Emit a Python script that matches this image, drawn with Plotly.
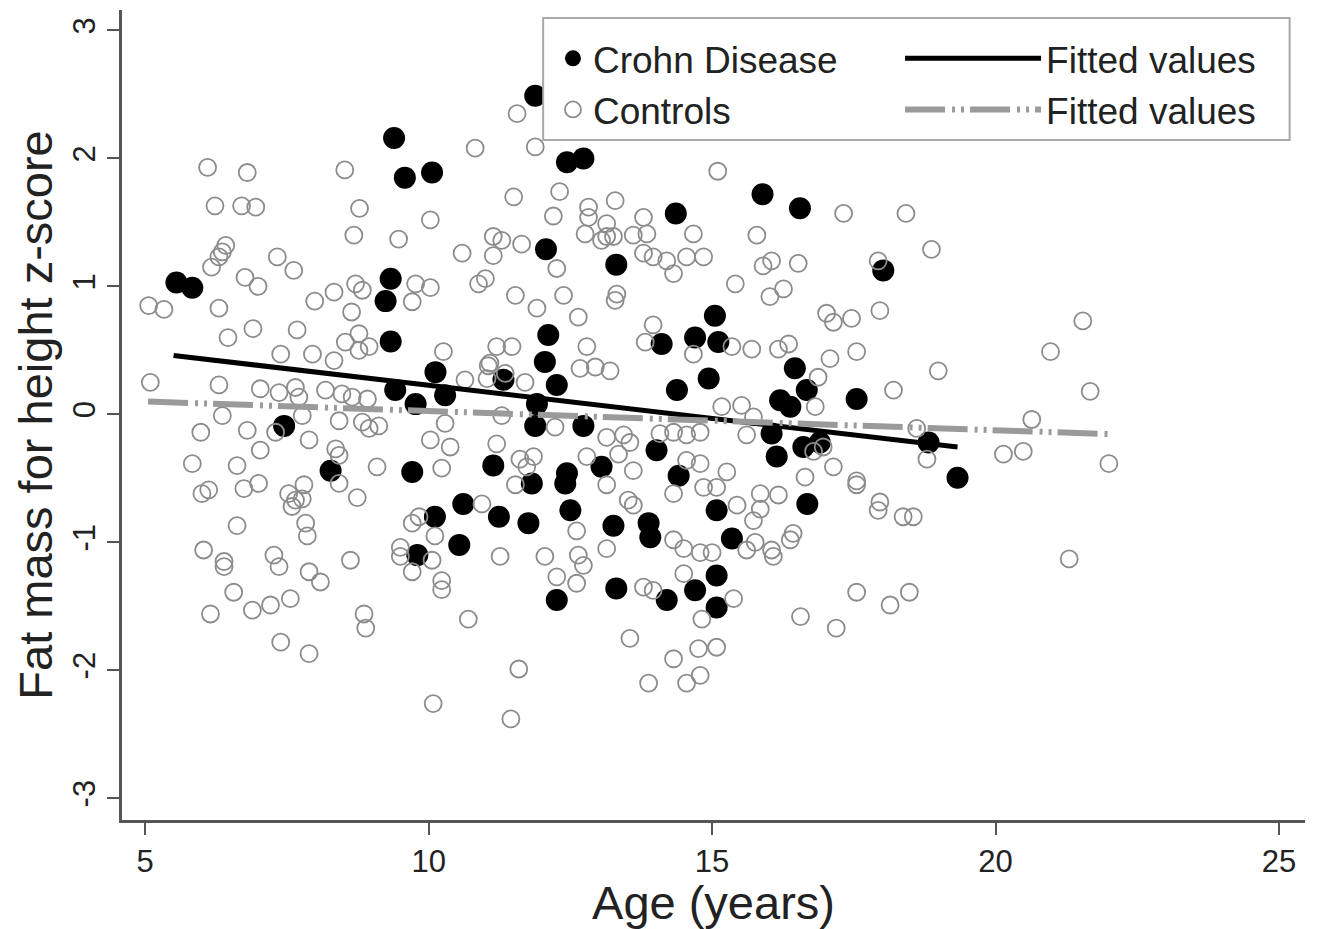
import plotly.graph_objects as go

# ---- data ----
crohn_age = [9.39, 9.58, 5.55, 5.83, 9.33, 9.24, 9.33, 9.41, 9.77, 7.45, 8.27, 9.71, 9.80,
             11.88, 10.06, 12.44, 12.73, 14.36, 12.07, 13.31, 12.11, 12.05, 14.11, 14.70, 15.05, 10.12,
             10.29, 11.32, 12.26, 11.91, 11.88, 12.73, 14.38, 14.94, 14.02, 14.41, 11.14, 11.82, 12.44,
             12.41, 13.05, 10.61, 10.11, 11.24, 11.76, 12.50, 13.26, 13.88, 13.91, 10.54, 12.26, 13.31,
             14.20, 14.70, 15.08, 15.08, 15.08, 15.89, 16.55, 18.02, 15.11, 16.46, 16.20, 16.38, 16.67,
             17.55, 16.05, 16.14, 16.61, 16.90, 18.82, 19.33, 16.68, 15.35]
crohn_z = [2.16, 1.85, 1.03, 0.99, 1.06, 0.885, 0.57, 0.19, 0.08, -0.09, -0.44, -0.45, -1.10,
           2.49, 1.89, 1.97, 2.00, 1.57, 1.29, 1.17, 0.62, 0.41, 0.55, 0.60, 0.77, 0.33,
           0.15, 0.27, 0.23, 0.08, -0.09, -0.09, 0.19, 0.28, -0.28, -0.48, -0.40, -0.54, -0.46,
           -0.54, -0.41, -0.70, -0.80, -0.80, -0.85, -0.75, -0.87, -0.85, -0.96, -1.02, -1.45, -1.36,
           -1.45, -1.375, -1.26, -1.51, -0.75, 1.72, 1.61, 1.125, 0.565, 0.36, 0.11, 0.06, 0.19,
           0.12, -0.15, -0.33, -0.255, -0.22, -0.22, -0.495, -0.70, -0.97]

control_age = [6.10, 6.80, 8.52, 6.23, 6.70, 6.95, 8.78, 8.68, 9.47, 6.42, 6.36, 6.30, 6.17, 7.33, 7.62,
               6.76, 6.99, 5.06, 5.33, 6.30, 7.99, 8.33, 8.71, 8.83, 8.64, 9.77, 9.71, 6.46, 6.90, 7.68,
               8.53, 8.77, 8.77, 8.95, 7.39, 7.95, 8.33,
               5.09, 6.30, 7.03, 7.36, 7.65, 7.71, 8.18, 8.47, 8.65, 8.92, 6.36, 7.77, 8.42, 8.83, 8.95,
               9.12, 5.98, 6.80, 7.30, 7.89, 7.03, 8.36, 8.42, 5.83, 6.62, 9.09, 6.00, 6.12, 6.74, 7.00,
               7.80, 8.42, 8.74, 7.53, 7.65, 7.77, 7.59, 6.62, 7.83, 7.86, 9.71, 9.83, 9.50, 9.50, 9.71,
               6.03, 6.39, 6.39, 7.27, 7.36, 7.89, 8.09, 8.62, 6.56, 6.15, 6.89, 7.21, 7.56, 8.86, 8.89,
               7.39, 7.89,
               11.56, 10.82, 11.88, 15.10, 11.50, 12.31, 13.29, 10.03, 12.20, 12.82, 12.82, 13.14, 13.14,
               12.76, 13.05, 13.26, 13.79, 13.61, 13.85, 14.67, 11.14, 11.29, 11.14, 11.64, 10.59, 12.26,
               13.79, 13.96, 14.20, 14.55, 14.85, 14.32, 10.88, 11.00, 10.03, 11.53, 11.91, 12.38, 13.32,
               13.29, 12.64, 13.96, 13.82, 10.26, 11.20, 11.47, 11.08, 12.79, 14.67,
               11.05, 11.35, 11.70, 10.64, 11.03, 12.67, 12.94, 13.20, 10.29, 11.29, 12.23, 13.14, 13.44,
               13.55, 10.03, 10.38, 11.20, 10.23, 11.61, 11.85, 11.73, 11.53, 12.79, 13.35, 13.61, 13.14,
               13.52, 13.61, 14.08, 14.32, 14.55, 14.79, 14.55, 14.79, 14.32, 14.85, 10.94, 12.61, 13.14,
               10.11, 10.06, 10.23, 10.23, 11.26, 12.05, 12.64, 12.73, 12.26, 12.61, 13.79, 13.96, 14.32,
               14.50, 14.79, 15.00, 14.50, 10.70, 13.55, 14.82, 14.32, 14.76, 11.59, 13.88, 14.55, 14.79,
               10.08, 11.45, 15.08,
               17.32, 18.42, 15.79, 18.87, 15.90, 16.05, 16.52, 17.93, 15.41, 16.02, 16.26, 17.96, 17.02,
               17.14, 17.46, 15.35, 15.70, 16.17, 16.35, 17.08, 17.55, 18.99, 16.87, 18.20, 16.82, 15.17,
               15.52, 15.73,
               15.61, 16.79, 16.96, 17.14, 16.64, 17.55, 17.55, 18.61, 18.79, 17.96, 17.93, 18.37, 18.55,
               15.26, 15.08, 15.44, 15.85, 16.17, 15.85, 15.73, 15.76, 15.61, 16.05, 16.08, 16.43, 16.38,
               15.38, 17.55, 18.14, 18.48, 16.56, 17.19,
               21.54, 20.97, 21.67, 20.64, 20.14, 20.49, 22.00, 21.30]
control_z = [1.93, 1.89, 1.91, 1.63, 1.63, 1.62, 1.61, 1.40, 1.37, 1.32, 1.27, 1.23, 1.15, 1.23, 1.125,
             1.07, 1.00, 0.85, 0.82, 0.83, 0.885, 0.955, 1.02, 0.97, 0.80, 1.02, 0.88, 0.60, 0.67, 0.66,
             0.565, 0.63, 0.50, 0.53, 0.47, 0.47, 0.42,
             0.25, 0.23, 0.20, 0.17, 0.21, 0.135, 0.19, 0.16, 0.135, 0.12, -0.01, -0.01, -0.05, -0.06, -0.11,
             -0.09, -0.14, -0.125, -0.14, -0.20, -0.28, -0.27, -0.32, -0.385, -0.40, -0.41, -0.62, -0.59, -0.58, -0.54,
             -0.55, -0.54, -0.65, -0.62, -0.67, -0.66, -0.72, -0.87, -0.85, -0.95, -0.85, -0.80, -1.04, -1.11, -1.23,
             -1.06, -1.15, -1.19, -1.10, -1.19, -1.23, -1.31, -1.14, -1.39, -1.56, -1.53, -1.49, -1.44, -1.56, -1.67,
             -1.78, -1.87,
             2.35, 2.08, 2.09, 1.90, 1.70, 1.74, 1.67, 1.52, 1.55, 1.62, 1.54, 1.49, 1.39,
             1.41, 1.36, 1.39, 1.54, 1.40, 1.41, 1.41, 1.39, 1.36, 1.24, 1.33, 1.26, 1.14,
             1.26, 1.23, 1.20, 1.23, 1.23, 1.10, 1.02, 1.06, 0.99, 0.93, 0.83, 0.93, 0.94,
             0.89, 0.76, 0.70, 0.565, 0.49, 0.53, 0.53, 0.40, 0.53, 0.47,
             0.38, 0.32, 0.25, 0.27, 0.28, 0.36, 0.37, 0.34, -0.07, -0.01, -0.10, -0.18, -0.16,
             -0.22, -0.20, -0.255, -0.23, -0.42, -0.35, -0.33, -0.41, -0.55, -0.33, -0.31, -0.44, -0.55,
             -0.67, -0.71, -0.15, -0.14, -0.16, -0.14, -0.36, -0.385, -0.62, -0.57, -0.70, -0.91, -1.05,
             -0.95, -1.14, -1.30, -1.37, -1.11, -1.11, -1.10, -1.18, -1.27, -1.32, -1.35, -1.375, -0.98,
             -1.05, -1.08, -1.08, -1.245, -1.60, -1.75, -1.60, -1.91, -1.83, -1.99, -2.10, -2.10, -2.04,
             -2.26, -2.38, -1.82,
             1.57, 1.57, 1.40, 1.29, 1.16, 1.20, 1.18, 1.20, 1.02, 0.92, 0.98, 0.81, 0.79,
             0.72, 0.75, 0.53, 0.51, 0.51, 0.55, 0.435, 0.49, 0.34, 0.29, 0.19, 0.06, 0.06,
             0.07, -0.02,
             -0.16, -0.29, -0.255, -0.41, -0.49, -0.52, -0.55, -0.11, -0.35, -0.685, -0.75, -0.80, -0.80,
             -0.45, -0.57, -0.71, -0.62, -0.63, -0.74, -0.83, -1.00, -1.06, -1.06, -1.11, -0.93, -0.98,
             -1.44, -1.39, -1.49, -1.39, -1.58, -1.67,
             0.73, 0.49, 0.18, -0.04, -0.31, -0.29, -0.385, -1.13]

# fitted-line end points
crohn_fit_age = [5.50, 19.33]
crohn_fit_z = [0.46, -0.255]
control_fit_age = [5.05, 22.05]
control_fit_z = [0.10, -0.155]

x_ticks = [5, 10, 15, 20, 25]
y_ticks = [-3, -2, -1, 0, 1, 2, 3]

FONT = "Liberation Sans, Arial, Helvetica, sans-serif"

fig = go.Figure()
fig.add_trace(go.Scatter(
    x=crohn_age, y=crohn_z, mode="markers", name="Crohn Disease", legend="legend",
    marker=dict(symbol="circle", size=22, color="black", line=dict(width=0)),
))
fig.add_trace(go.Scatter(
    x=control_age, y=control_z, mode="markers", name="Controls", legend="legend",
    marker=dict(symbol="circle-open", size=17, color="#8c8c8c", line=dict(width=1.8)),
))
fig.add_trace(go.Scatter(
    x=crohn_fit_age, y=crohn_fit_z, mode="lines", name="Fitted values", legend="legend2",
    line=dict(color="black", width=5),
))
fig.add_trace(go.Scatter(
    x=control_fit_age, y=control_fit_z, mode="lines", name="Fitted values", legend="legend2",
    line=dict(color="#9a9a9a", width=6, dash="40px,7px,3px,6px,3px,6px"),
))

# the page body adds an 8px offset, so the figure is 8px smaller and margins are shifted
fig.update_layout(
    width=1310, height=921,
    margin=dict(l=114, r=13, t=2, b=109),
    paper_bgcolor="white", plot_bgcolor="white",
    font=dict(family=FONT, color="#222222"),
    showlegend=True,
    legend=dict(x=0.3643, y=0.978, xanchor="left", yanchor="top",
                bgcolor="rgba(0,0,0,0)", borderwidth=0,
                font=dict(size=37, family=FONT, color="#222222")),
    legend2=dict(x=0.6577, y=0.978, xanchor="left", yanchor="top",
                 bgcolor="rgba(0,0,0,0)", borderwidth=0, itemwidth=136,
                 font=dict(size=37, family=FONT, color="#222222")),
    shapes=[dict(type="rect", xref="paper", yref="paper",
                 x0=0.356, x1=0.987, y0=0.8395, y1=0.990,
                 fillcolor="white", line=dict(color="#a8a8a8", width=2), layer="above")],
)

fig.update_xaxes(
    range=[4.59, 25.46], tickvals=x_ticks, ticktext=[str(v) for v in x_ticks],
    showgrid=False, zeroline=False, showline=True, linecolor="#555555", linewidth=2.5,
    ticks="outside", ticklen=12, tickwidth=2, tickcolor="#555555",
    tickfont=dict(size=31, family=FONT, color="#222222"),
    title=dict(text="Age (years)", font=dict(size=47, family=FONT, color="#222222"), standoff=2),
)
fig.update_yaxes(
    range=[-3.17, 3.16], tickvals=y_ticks, ticktext=[str(v) for v in y_ticks],
    showgrid=False, zeroline=False, showline=True, linecolor="#555555", linewidth=2.5,
    ticks="outside", ticklen=12, tickwidth=2, tickcolor="#555555", tickangle=-90,
    tickfont=dict(size=31, family=FONT, color="#222222"),
    title=dict(text="Fat mass for height z-score", font=dict(size=47, family=FONT, color="#222222"), standoff=0),
)

fig.write_html("out.html")
